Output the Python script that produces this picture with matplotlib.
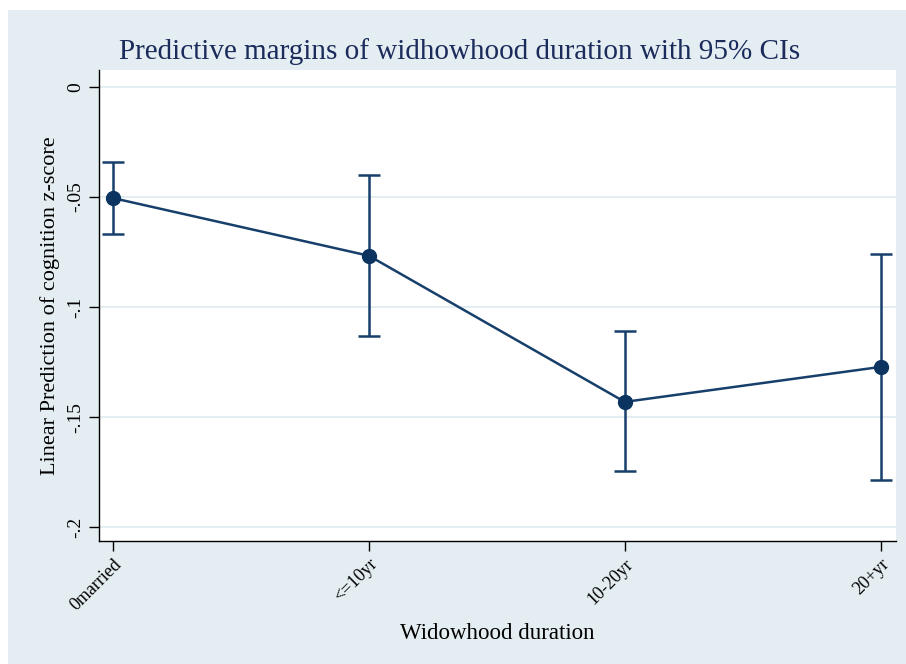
import matplotlib
matplotlib.use("Agg")
import matplotlib.pyplot as plt
from matplotlib.patches import Rectangle

categories = ["0married", "<=10yr", "10-20yr", "20+yr"]
margins = [-0.0505, -0.0767, -0.1431, -0.1272]
ci_low = [-0.0668, -0.1133, -0.1747, -0.1787]
ci_high = [-0.0339, -0.0402, -0.1111, -0.0760]
yticks = [0, -0.05, -0.1, -0.15, -0.2]
ytick_labels = ["0", "-.05", "-.1", "-.15", "-.2"]

W, H = 906, 664
fig = plt.figure(figsize=(W / 100, H / 100), dpi=100)
fig.patch.set_facecolor("white")
bg = "#e4edf1"
fig.patches.append(Rectangle((8 / W, 0), 1 - 8 / W, 1 - 10 / H, transform=fig.transFigure,
                             facecolor=bg, edgecolor="none", zorder=-10))

left, right, top, bottom = 99, 896, 70, 541
ax = fig.add_axes([left / W, 1 - bottom / H, (right - left) / W, (bottom - top) / H])
ax.set_facecolor("white")

navy = "#173f6b"
x = list(range(len(categories)))
yerr = [[m - lo for m, lo in zip(margins, ci_low)], [hi - m for m, hi in zip(margins, ci_high)]]
ax.errorbar(x, margins, yerr=yerr, color=navy, lw=1.8, elinewidth=1.8, capsize=8, capthick=1.8,
            marker="o", markersize=10, markerfacecolor="#0b3560", markeredgecolor="#0b3560", zorder=3)

ax.set_xlim(-0.055, 3.06)
ax.set_ylim(-0.2063, 0.0077)
ax.set_yticks(yticks)
ax.set_yticklabels(ytick_labels, rotation=90, va="center")
ax.set_xticks(x)
ax.set_xticklabels(categories, rotation=45, ha="right", va="top", rotation_mode="anchor")
ax.grid(axis="y", color="#e4edf1", lw=1.5)
ax.set_axisbelow(True)

for s in ["top", "right"]:
    ax.spines[s].set_visible(False)
for s in ["left", "bottom"]:
    ax.spines[s].set_color("black")
    ax.spines[s].set_linewidth(1.0)

serif = "Liberation Serif"
ax.tick_params(axis="both", length=7, width=1.0, colors="black", labelsize=12)
for lab in ax.get_yticklabels() + ax.get_xticklabels():
    lab.set_fontfamily(serif)
for lab in ax.get_yticklabels():
    lab.set_fontsize(14)
for lab in ax.get_xticklabels():
    lab.set_fontsize(13)

ax.set_ylabel("Linear Prediction of cognition z-score", fontfamily=serif, fontsize=16, labelpad=5)
ax.set_xlabel("Widowhood duration", fontfamily=serif, fontsize=16.5, labelpad=7)
fig.text(460 / W, 1 - 59 / H, "Predictive margins of widhowhood duration with 95% CIs",
         ha="center", va="baseline", fontfamily=serif, fontsize=21, color="#1a2b5c")

fig.savefig("out.png", dpi=100, facecolor=fig.get_facecolor())
